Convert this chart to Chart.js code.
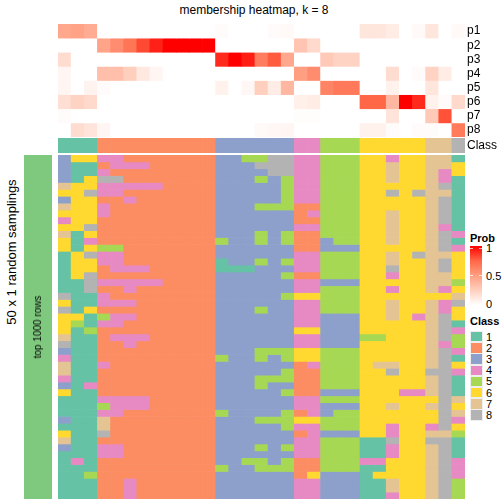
<!DOCTYPE html>
<html>
<head>
<meta charset="utf-8">
<script src="https://cdn.jsdelivr.net/npm/chart.js@4"></script>
<style>
html, body { margin: 0; padding: 0; background: #fff; }
body { position: relative; width: 504px; height: 504px; overflow: hidden; font-family: "Liberation Sans", sans-serif; color: #000; }
canvas, .t, .sw, #bar, .dash { position: absolute; }
.t { white-space: nowrap; line-height: 1; }
.rot { transform: translate(-50%, -50%) rotate(-90deg); }
.leg { font-size: 11px; left: 486px; }
.head { font-size: 11px; font-weight: bold; left: 470px; }
.sw { left: 470px; width: 11px; height: 9.4px; border: 1px solid #eee; }
.dash { width: 3px; height: 1px; background: #fff; opacity: .7; }
</style>
</head>
<body>
<canvas id="top" width="446" height="113" style="left:58px;top:24px"></canvas>
<canvas id="cls" width="446" height="15" style="left:58px;top:138px"></canvas>
<canvas id="side" width="28" height="344" style="left:24px;top:155px"></canvas>
<canvas id="main" width="407" height="344" style="left:58px;top:155px"></canvas>

<div class="t" style="left:254px;top:4px;font-size:12px;transform:translateX(-50%)">membership heatmap, k = 8</div>
<div class="t rot" style="left:11px;top:252px;font-size:13px">50 x 1 random samplings</div>
<div class="t rot" style="left:38px;top:327px;font-size:10px">top 1000 rows</div>

<div class="t head" style="top:233px">Prob</div>
<div id="bar" style="left:470px;top:246px;width:12px;height:59px"></div>
<div class="dash" style="left:470px;top:248px"></div><div class="dash" style="left:479px;top:248px"></div>
<div class="dash" style="left:470px;top:275px"></div><div class="dash" style="left:479px;top:275px"></div>
<div class="t leg" style="top:243px">1</div>
<div class="t leg" style="top:271px">0.5</div>
<div class="t leg" style="top:299px">0</div>
<div class="t head" style="top:316px">Class</div>
<div id="classLegend"></div>

<script>
var probNames = ['p1', 'p2', 'p3', 'p4', 'p5', 'p6', 'p7', 'p8'];
var p1 = [.45, .48, .43, 0, 0, 0, 0, 0, 0, 0, 0, 0, .02, 0, 0, 0, .02, .03, 0, 0, 0, 0, 0, .13, .13, .1, 0, .03, .13, 0, .03];
var p2 = [0, 0, 0, .47, .58, .68, .82, .92, 1, 1, 1, 1, 0, 0, 0, 0, 0, 0, .3, .2, 0, 0, 0, 0, 0, 0, 0, 0, 0, 0, 0];
var p3 = [.18, 0, 0, 0, 0, 0, 0, 0, 0, 0, 0, 0, .9, 1, .93, .65, .78, .45, 0, 0, .28, .23, .23, 0, 0, 0, 0, 0, 0, 0, 0];
var p4 = [.05, 0, 0, .33, .33, .25, .12, .05, 0, 0, 0, 0, 0, 0, 0, 0, 0, 0, .5, .58, 0, 0, 0, 0, 0, .18, 0, .02, .23, .1, 0];
var p5 = [.05, 0, .06, .02, 0, 0, 0, 0, 0, 0, 0, 0, .07, 0, .04, .25, .1, .37, 0, 0, .62, .67, .67, 0, 0, .07, 0, 0, .13, 0, 0];
var p6 = [.17, .23, .2, 0, 0, 0, 0, 0, 0, 0, 0, 0, 0, 0, 0, 0, 0, 0, .08, .1, 0, 0, 0, .75, .75, .37, 1, .9, .07, .02, .2];
var p7 = [.02, 0, 0, 0, 0, 0, 0, 0, 0, 0, 0, 0, 0, 0, 0, 0, 0, 0, .01, .01, 0, 0, 0, 0, 0, .14, 0, 0, .28, .8, 0];
var p8 = [0, .18, .14, .05, 0, 0, 0, 0, 0, 0, 0, 0, 0, 0, 0, .03, .04, .05, 0, 0, 0, 0, 0, .07, .07, .02, 0, .02, .02, 0, .66];

var topClasses = [1, 1, 1, 2, 2, 2, 2, 2, 2, 2, 2, 2, 3, 3, 3, 3, 3, 3, 4, 4, 5, 5, 5, 6, 6, 6, 6, 6, 7, 7, 8];
var classNames = [1, 2, 3, 4, 5, 6, 7, 8];

// one string per sampling, one digit per column
var samplingRows = [
    '366 442222222 335588 44 555 66 4 66 77 1',
    '311 244422222 333888 44 555 66 7 66 77 6',
    '311 422222222 333388 44 555 66 7 66 74 6',
    '316 882222222 333535 44 555 66 7 66 74 1',
    '766 444442222 333335 44 555 66 6 66 78 1',
    '668 442222222 333335 44 555 66 8 68 77 1',
    '366 224222222 333335 44 555 66 6 66 78 1',
    '766 422222222 333555 22 555 66 6 66 78 1',
    '666 422222222 333333 24 555 66 7 66 78 1',
    '466 222222222 333333 22 555 66 7 66 78 1',
    '668 222222222 333333 44 555 66 7 66 74 1',
    '716 222222222 333535 22 555 66 7 66 78 4',
    '614 222222222 533535 22 355 66 7 66 78 1',
    '616 552222222 333333 22 333 66 6 66 78 4',
    '168 442222222 333333 44 555 66 7 68 77 6',
    '166 442222222 133535 44 555 66 7 66 78 6',
    '166 244422222 111333 44 555 66 8 66 78 6',
    '168 222222222 333335 22 555 66 4 66 77 6',
    '118 444442222 333333 44 333 66 6 66 77 5',
    '118 224222222 333333 44 555 66 4 66 74 6',
    '811 422222222 333335 66 555 66 6 66 66 7',
    '611 444222222 333333 44 555 66 7 66 74 8',
    '816 222222222 333533 44 555 66 7 66 74 6',
    '661 544222222 333333 44 333 66 7 64 78 6',
    '651 442222222 333333 44 333 66 6 66 78 1',
    '615 222222222 333333 66 333 66 6 66 78 4',
    '711 244422222 333333 44 333 55 6 66 78 5',
    '811 224222222 333333 44 333 66 6 66 74 5',
    '311 222222222 333555 66 555 66 6 66 78 4',
    '411 222222222 533535 66 555 66 6 66 78 1',
    '711 422222222 333333 24 555 67 7 66 78 6',
    '711 222222222 333335 22 555 66 8 66 88 4',
    '411 222222222 333555 22 555 66 6 66 78 1',
    '314 222222222 333533 22 555 66 6 66 78 1',
    '611 222222222 333335 22 333 66 6 44 78 1',
    '111 444422222 333333 44 555 66 6 66 68 7',
    '111 544422222 333333 44 333 66 7 66 78 6',
    '111 442222222 533335 24 355 66 6 66 68 7',
    '311 722222222 333555 66 555 66 6 66 68 4',
    '111 722222222 333335 44 555 66 4 66 48 6',
    '611 822222222 333333 24 333 66 4 66 77 5',
    '711 222222222 333333 44 555 11 8 66 88 1',
    '311 442222222 333535 44 555 11 4 66 78 1',
    '111 442222222 333333 44 555 11 4 66 78 1',
    '141 222222222 335535 22 555 44 6 66 78 4',
    '111 222222222 533555 22 555 11 6 66 78 4',
    '115 222222222 333333 26 333 16 6 66 78 4',
    '111 224222222 333333 44 333 11 7 66 78 5',
    '111 224222222 333333 44 333 11 7 66 78 5',
    '111 224222222 333333 44 333 11 4 66 78 5'
];

var classColors = {1: '#66C2A5', 2: '#FC8D62', 3: '#8DA0CB', 4: '#E78AC3', 5: '#A6D854', 6: '#FFD92F', 7: '#E5C494', 8: '#B3B3B3'};
var sideColor = '#7FC97F';
// white to red, same steps as the Prob legend
var rampStops = [[255, 255, 255], [255, 207, 190], [255, 158, 129], [255, 103, 71], [255, 0, 0]];

function probColor(v) {
    var pos = v * (rampStops.length - 1);
    var i = Math.min(Math.floor(pos), rampStops.length - 2);
    var f = pos - i;
    var rgb = [0, 1, 2].map(function (k) {
        return Math.round(rampStops[i][k] + (rampStops[i + 1][k] - rampStops[i][k]) * f);
    });
    return 'rgb(' + rgb.join(',') + ')';
}

// every row is one stacked dataset, one unit tall, coloured cell by cell
function drawCells(id, rows, rowLabels) {
    var nRows = rows.length;
    var scales = {
        x: {display: false, stacked: true},
        y: {display: false, stacked: true, reverse: true, min: 0, max: nRows}
    };
    if (rowLabels) {
        scales.names = {
            type: 'category', axis: 'y', position: 'right', labels: rowLabels, offset: true,
            grid: {display: false, drawTicks: false}, border: {display: false},
            ticks: {autoSkip: false, padding: 2, color: '#000', font: {family: 'Liberation Sans', size: 12}},
            afterFit: function (scale) {
                scale.width = 39;
                scale.paddingTop = 0;
                scale.paddingBottom = 0;
            }
        };
    }
    return new Chart(document.getElementById(id), {
        type: 'bar',
        data: {
            labels: rows[0].map(function (c, i) { return i + 1; }),
            datasets: rows.map(function (colors) {
                return {
                    data: colors.map(function () { return 1; }),
                    backgroundColor: colors,
                    yAxisID: 'y',
                    barPercentage: 1,
                    categoryPercentage: 1,
                    borderWidth: 0
                };
            })
        },
        options: {
            responsive: false,
            animation: false,
            layout: {padding: 0, autoPadding: false},
            plugins: {legend: {display: false}, tooltip: {enabled: false}},
            scales: scales
        }
    });
}

var probRows = [p1, p2, p3, p4, p5, p6, p7, p8].map(function (row) { return row.map(probColor); });
var mainCells = samplingRows.map(function (row) {
    return row.replace(/ /g, '').split('').map(function (d) { return classColors[d]; });
});

drawCells('top', probRows, probNames);
drawCells('cls', [topClasses.map(function (c) { return classColors[c]; })], ['Class']);
drawCells('side', [[sideColor]]);
drawCells('main', mainCells);

document.getElementById('bar').style.background = 'linear-gradient(to bottom, ' +
    rampStops.slice().reverse().map(function (s) { return 'rgb(' + s.join(',') + ')'; }).join(',') + ')';

var legendHtml = '';
classNames.forEach(function (c, i) {
    var y = 331 + i * 11.2;
    legendHtml += '<div class="sw" style="top:' + y + 'px;background:' + classColors[c] + '"></div>' +
        '<div class="t leg" style="top:' + (y + 0.5) + 'px">' + c + '</div>';
});
document.getElementById('classLegend').innerHTML = legendHtml;
</script>
</body>
</html>
